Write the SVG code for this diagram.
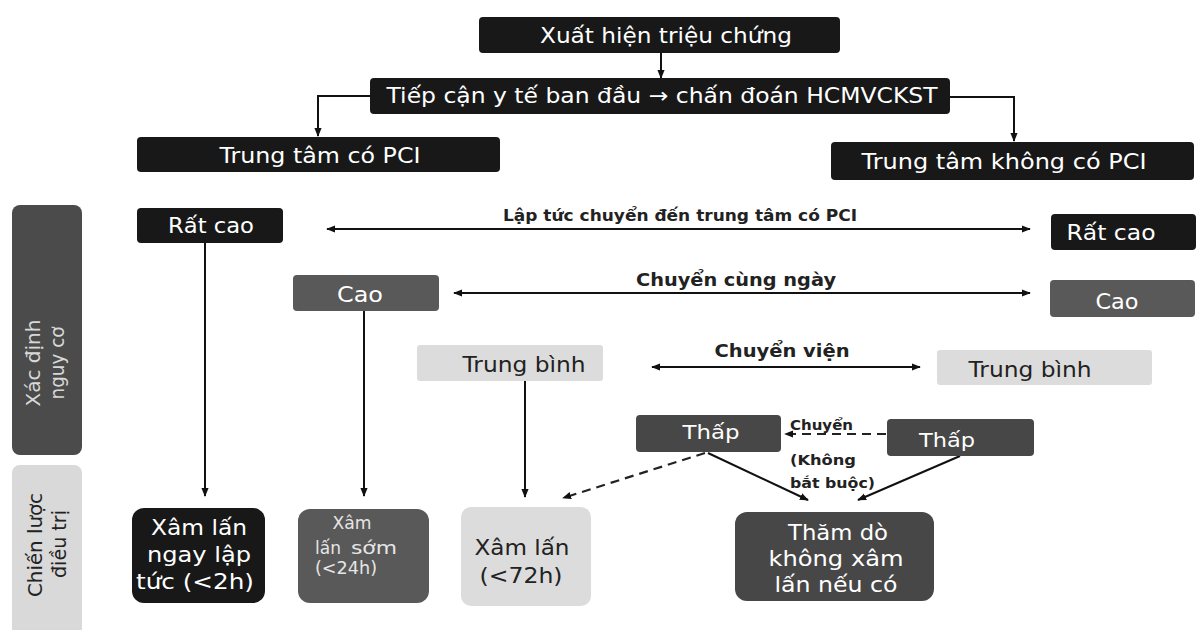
<svg xmlns="http://www.w3.org/2000/svg" width="1203" height="630" viewBox="0 0 1203 630">
<defs>
<marker id="ah" viewBox="0 0 10 10" refX="9" refY="5" markerWidth="9" markerHeight="9" markerUnits="userSpaceOnUse" orient="auto-start-reverse"><path d="M0,1 L10,5 L0,9 z" fill="#111"/></marker>
</defs>
<style>
text{font-family:"DejaVu Sans","Liberation Sans",sans-serif;text-anchor:middle;dominant-baseline:central}
.blk{fill:#181818}
.gry{fill:#595959}
.dgr{fill:#474747}
.lgt{fill:#dcdcdc}
.w{fill:#fff}
.d{fill:#222}
.ln{stroke:#111;stroke-width:2;fill:none}
.dash{stroke:#222;stroke-width:2.2;fill:none;stroke-dasharray:9 6}
.lbl{font-weight:bold;fill:#222}
.st{text-anchor:start}
</style>
<rect width="1203" height="630" fill="#fff"/>

<g id="side-risk">
<rect x="12" y="205" width="70" height="250" rx="8" fill="#4b4b4b"/>
<text transform="translate(33,363) rotate(-90)" font-size="19" fill="#d8d8d8" textLength="87" lengthAdjust="spacingAndGlyphs">Xác định</text>
<text transform="translate(57,363) rotate(-90)" font-size="19" fill="#d8d8d8" textLength="73" lengthAdjust="spacingAndGlyphs">nguy cơ</text>
</g>
<g id="side-strategy">
<rect x="12" y="465" width="70" height="175" rx="8" fill="#d9d9d9"/>
<text transform="translate(35,545) rotate(-90)" class="d" font-size="20" textLength="104" lengthAdjust="spacingAndGlyphs">Chiến lược</text>
<text transform="translate(59,544) rotate(-90)" class="d" font-size="20" textLength="68" lengthAdjust="spacingAndGlyphs">điều trị</text>
</g>

<g id="connectors">
<line class="ln" x1="661" y1="53" x2="661" y2="78" marker-end="url(#ah)"/>
<polyline class="ln" points="370,96 318,96 318,136" marker-end="url(#ah)"/>
<polyline class="ln" points="950,97 1014,97 1014,141" marker-end="url(#ah)"/>
<line class="ln" x1="327" y1="229" x2="1030" y2="229" marker-start="url(#ah)" marker-end="url(#ah)"/>
<line class="ln" x1="454" y1="293" x2="1030" y2="293" marker-start="url(#ah)" marker-end="url(#ah)"/>
<line class="ln" x1="652" y1="367" x2="920" y2="367" marker-start="url(#ah)" marker-end="url(#ah)"/>
<line class="ln" x1="205" y1="243" x2="205" y2="496" marker-end="url(#ah)"/>
<line class="ln" x1="364" y1="311" x2="364" y2="496" marker-end="url(#ah)"/>
<line class="ln" x1="525" y1="381" x2="525" y2="497" marker-end="url(#ah)"/>
<line class="dash" x1="886" y1="434" x2="785" y2="434" marker-end="url(#ah)"/>
<line class="dash" x1="705" y1="453" x2="563" y2="498" marker-end="url(#ah)"/>
<line class="ln" x1="708" y1="453" x2="808" y2="500" marker-end="url(#ah)"/>
<line class="ln" x1="960" y1="456" x2="858" y2="500" marker-end="url(#ah)"/>
<text x="680" y="215" class="lbl" font-size="16" textLength="354" lengthAdjust="spacingAndGlyphs">Lập tức chuyển đến trung tâm có PCI</text>
<text x="736" y="280" class="lbl" font-size="17" textLength="200" lengthAdjust="spacingAndGlyphs">Chuyển cùng ngày</text>
<text x="782" y="351" class="lbl" font-size="17" textLength="135" lengthAdjust="spacingAndGlyphs">Chuyển viện</text>
<text x="790" y="425" class="lbl st" font-size="14" textLength="63" lengthAdjust="spacingAndGlyphs">Chuyển</text>
<text x="790" y="460" class="lbl st" font-size="14" textLength="66" lengthAdjust="spacingAndGlyphs">(Không</text>
<text x="790" y="483" class="lbl st" font-size="14" textLength="85" lengthAdjust="spacingAndGlyphs">bắt buộc)</text>
</g>

<g id="n-trieuchung"><rect x="479" y="17" width="361" height="36" rx="4" class="blk"/><text x="666" y="36" class="w" font-size="21" textLength="252" lengthAdjust="spacingAndGlyphs">Xuất hiện triệu chứng</text></g>
<g id="n-tiepcan"><rect x="370" y="78" width="580" height="36" rx="4" class="blk"/><text x="662" y="96" class="w" font-size="21" textLength="551" lengthAdjust="spacingAndGlyphs">Tiếp cận y tế ban đầu → chấn đoán HCMVCKST</text></g>
<g id="n-copci"><rect x="137" y="137" width="363" height="35" rx="4" class="blk"/><text x="320" y="155" class="w" font-size="22" textLength="201" lengthAdjust="spacingAndGlyphs">Trung tâm có PCI</text></g>
<g id="n-khongpci"><rect x="831" y="142" width="363" height="38" rx="4" class="blk"/><text x="1004" y="161" class="w" font-size="22" textLength="285" lengthAdjust="spacingAndGlyphs">Trung tâm không có PCI</text></g>

<g id="n-ratcao-l"><rect x="137" y="208" width="146" height="35" rx="4" class="blk"/><text x="211" y="226" class="w" font-size="21" textLength="86" lengthAdjust="spacingAndGlyphs">Rất cao</text></g>
<g id="n-ratcao-r"><rect x="1051" y="214" width="145" height="36" rx="4" class="blk"/><text x="1111" y="233" class="w" font-size="21" textLength="89" lengthAdjust="spacingAndGlyphs">Rất cao</text></g>
<g id="n-cao-l"><rect x="293" y="275" width="146" height="36" rx="4" class="gry"/><text x="360" y="294" class="w" font-size="22" textLength="46" lengthAdjust="spacingAndGlyphs">Cao</text></g>
<g id="n-cao-r"><rect x="1050" y="280" width="145" height="37" rx="4" class="gry"/><text x="1117" y="301" class="w" font-size="22" textLength="43" lengthAdjust="spacingAndGlyphs">Cao</text></g>
<g id="n-tb-l"><rect x="417" y="345" width="186" height="36" rx="3" class="lgt"/><text x="524" y="365" class="d" font-size="21" textLength="123" lengthAdjust="spacingAndGlyphs">Trung bình</text></g>
<g id="n-tb-r"><rect x="937" y="350" width="215" height="35" rx="3" class="lgt"/><text x="1030" y="370" class="d" font-size="21" textLength="123" lengthAdjust="spacingAndGlyphs">Trung bình</text></g>
<g id="n-thap-l"><rect x="636" y="415" width="145" height="37" rx="4" class="dgr"/><text x="711" y="432" class="w" font-size="20" textLength="57" lengthAdjust="spacingAndGlyphs">Thấp</text></g>
<g id="n-thap-r"><rect x="887" y="419" width="147" height="37" rx="4" class="dgr"/><text x="947" y="440" class="w" font-size="20" textLength="56" lengthAdjust="spacingAndGlyphs">Thấp</text></g>

<g id="n-xl2h"><rect x="132" y="508" width="133" height="95" rx="12" class="blk"/>
<text x="199" y="528" class="w" font-size="21" textLength="96" lengthAdjust="spacingAndGlyphs">Xâm lấn</text><text x="199" y="555" class="w" font-size="21" textLength="104" lengthAdjust="spacingAndGlyphs">ngay lập</text><text x="195" y="582" class="w" font-size="21" textLength="118" lengthAdjust="spacingAndGlyphs">tức (&lt;2h)</text></g>
<g id="n-xl24h"><rect x="298" y="509" width="131" height="94" rx="12" class="gry"/>
<text x="352" y="523" font-size="17" fill="#e6e6e6" textLength="39" lengthAdjust="spacingAndGlyphs">Xâm</text><text x="328" y="548" font-size="17" fill="#e6e6e6" textLength="26" lengthAdjust="spacingAndGlyphs">lấn</text><text x="374" y="548" font-size="17" fill="#e6e6e6" textLength="46" lengthAdjust="spacingAndGlyphs">sớm</text><text x="346" y="568" font-size="17" fill="#e6e6e6" textLength="62" lengthAdjust="spacingAndGlyphs">(&lt;24h)</text></g>
<g id="n-xl72h"><rect x="461" y="507" width="130" height="99" rx="10" class="lgt"/>
<text x="522" y="547" class="d" font-size="22" textLength="95" lengthAdjust="spacingAndGlyphs">Xâm lấn</text><text x="521" y="575" class="d" font-size="22" textLength="83" lengthAdjust="spacingAndGlyphs">(&lt;72h)</text></g>
<g id="n-thamdo"><rect x="735" y="512" width="199" height="89" rx="12" class="dgr"/>
<text x="838" y="533" class="w" font-size="21" textLength="100" lengthAdjust="spacingAndGlyphs">Thăm dò</text><text x="836" y="559" class="w" font-size="21" textLength="135" lengthAdjust="spacingAndGlyphs">không xâm</text><text x="836" y="585" class="w" font-size="21" textLength="123" lengthAdjust="spacingAndGlyphs">lấn nếu có</text></g>
</svg>
